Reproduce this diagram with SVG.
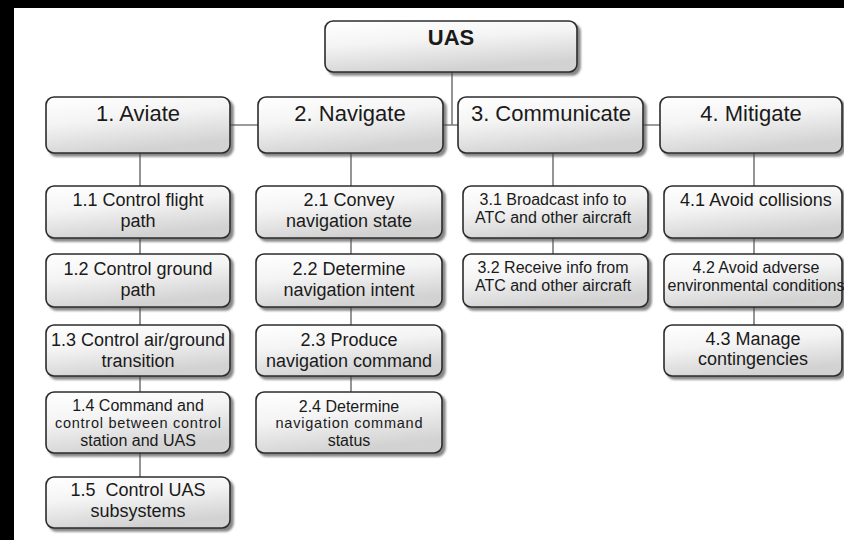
<svg xmlns="http://www.w3.org/2000/svg" width="844" height="540" viewBox="0 0 844 540">
<defs>
<linearGradient id="g" x1="0" y1="0" x2="0.35" y2="1">
<stop offset="0" stop-color="#ffffff"/>
<stop offset="0.45" stop-color="#f4f4f4"/>
<stop offset="1" stop-color="#d2d2d2"/>
</linearGradient>
<filter id="sh" x="-10%" y="-10%" width="130%" height="140%">
<feDropShadow dx="3" dy="3" stdDeviation="1.2" flood-color="#444" flood-opacity="0.65"/>
</filter>
</defs>
<style>
.b{fill:url(#g);stroke:#2b2b2b;stroke-width:1.6;filter:url(#sh)}
.c{stroke:#7a7a7a;stroke-width:1.6;fill:none}
text{font-family:"Liberation Sans",Arial,sans-serif;fill:#1a1a1a;text-anchor:middle}
.t1{font-size:22px}
.t0{font-size:22px;font-weight:bold}
.t2{font-size:18px}
.t3{font-size:16px}
</style>
<rect x="0" y="0" width="844" height="540" fill="#ffffff"/>
<rect x="0" y="0" width="844" height="8" fill="#000"/>
<rect x="0" y="0" width="14" height="540" fill="#000"/>
<g id="connectors">
<line class="c" x1="140" y1="125" x2="754" y2="125"/>
<line class="c" x1="452" y1="72" x2="452" y2="125"/>
<line class="c" x1="140" y1="153" x2="140" y2="477"/>
<line class="c" x1="351" y1="153" x2="351" y2="392"/>
<line class="c" x1="553" y1="153" x2="553" y2="254"/>
<line class="c" x1="754" y1="153" x2="754" y2="325"/>
</g>
<g id="uas"><rect class="b" x="325" y="21" width="252" height="51" rx="8"/><text class="t0" x="451" y="45">UAS</text></g>
<g id="n1"><rect class="b" x="46" y="97" width="184" height="56" rx="8"/><text class="t1" x="138" y="121">1. Aviate</text></g>
<g id="n2"><rect class="b" x="258" y="97" width="185" height="56" rx="8"/><text class="t1" x="350" y="121">2. Navigate</text></g>
<g id="n3"><rect class="b" x="458" y="97" width="185" height="56" rx="8"/><text class="t1" x="551" y="121">3. Communicate</text></g>
<g id="n4"><rect class="b" x="660" y="97" width="182" height="56" rx="8"/><text class="t1" x="751" y="121">4. Mitigate</text></g>

<g id="n11"><rect class="b" x="46" y="186" width="184" height="52" rx="8"/><text class="t2" x="138" y="206">1.1 Control flight</text><text class="t2" x="138" y="227">path</text></g>
<g id="n12"><rect class="b" x="46" y="254" width="184" height="53" rx="8"/><text class="t2" x="138" y="275">1.2 Control ground</text><text class="t2" x="138" y="296">path</text></g>
<g id="n13"><rect class="b" x="46" y="325" width="184" height="51" rx="8"/><text class="t2" x="138" y="346">1.3 Control air/ground</text><text class="t2" x="138" y="367">transition</text></g>
<g id="n14"><rect class="b" x="46" y="392" width="184" height="61" rx="8"/><text class="t3" x="138" y="411">1.4 Command and</text><text class="t3" x="138" y="428" style="font-size:14.5px" textLength="166" lengthAdjust="spacing">control between control</text><text class="t3" x="138" y="446">station and UAS</text></g>
<g id="n15"><rect class="b" x="46" y="477" width="184" height="51" rx="8"/><text class="t2" x="138" y="496" xml:space="preserve">1.5  Control UAS</text><text class="t2" x="138" y="517">subsystems</text></g>

<g id="n21"><rect class="b" x="256" y="186" width="186" height="52" rx="8"/><text class="t2" x="349" y="206">2.1 Convey</text><text class="t2" x="349" y="227">navigation state</text></g>
<g id="n22"><rect class="b" x="256" y="254" width="186" height="53" rx="8"/><text class="t2" x="349" y="275">2.2 Determine</text><text class="t2" x="349" y="296">navigation intent</text></g>
<g id="n23"><rect class="b" x="256" y="325" width="186" height="51" rx="8"/><text class="t2" x="349" y="346">2.3 Produce</text><text class="t2" x="349" y="367">navigation command</text></g>
<g id="n24"><rect class="b" x="256" y="392" width="186" height="61" rx="8"/><text class="t3" x="349" y="412">2.4 Determine</text><text class="t3" x="349" y="428" style="font-size:14.5px" textLength="147" lengthAdjust="spacing">navigation command</text><text class="t3" x="349" y="446">status</text></g>

<g id="n31"><rect class="b" x="463" y="186" width="185" height="52" rx="8"/><text class="t3" x="553" y="205">3.1 Broadcast info to</text><text class="t3" x="553" y="223">ATC and other aircraft</text></g>
<g id="n32"><rect class="b" x="463" y="254" width="185" height="53" rx="8"/><text class="t3" x="553" y="273">3.2 Receive info from</text><text class="t3" x="553" y="291">ATC and other aircraft</text></g>

<g id="n41"><rect class="b" x="664" y="186" width="178" height="52" rx="8"/><text class="t2" x="756" y="206">4.1 Avoid collisions</text></g>
<g id="n42"><rect class="b" x="664" y="254" width="178" height="53" rx="8"/><text class="t3" x="756" y="273">4.2 Avoid adverse</text><text class="t3" x="756" y="291">environmental conditions</text></g>
<g id="n43"><rect class="b" x="664" y="325" width="178" height="51" rx="8"/><text class="t2" x="753" y="345">4.3 Manage</text><text class="t2" x="753" y="365">contingencies</text></g>
</svg>
